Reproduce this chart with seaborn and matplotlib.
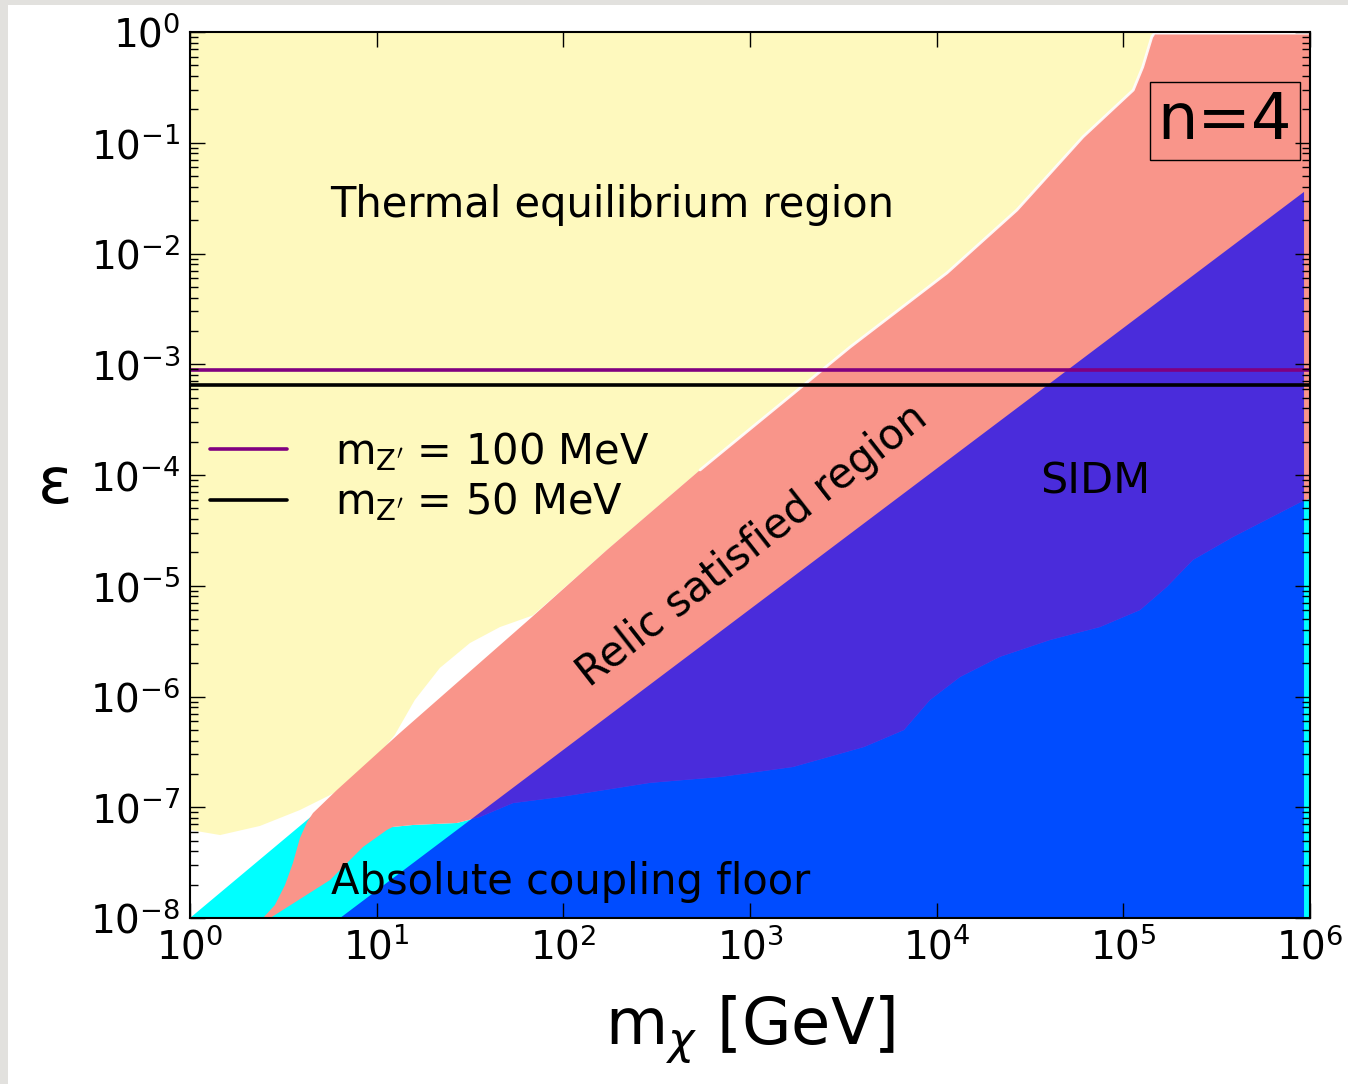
import numpy as np
import pandas as pd
import matplotlib
matplotlib.use("Agg")
import matplotlib.pyplot as plt
from matplotlib.patches import Rectangle
from matplotlib.ticker import LogLocator, NullLocator
import seaborn as sns

# ---------------- data ----------------
# lower edge of the thermal-equilibrium (yellow) region
therm_x = [1, 1.45, 2.37, 3.88, 6.37, 9.20, 12.5, 16.0, 21.8, 31.6, 45.8, 68.7]
therm_y = [6.24e-8, 5.61e-8, 6.78e-8, 9.44e-8, 1.43e-7, 2.40e-7, 4.49e-7,
           9.29e-7, 1.81e-6, 3.04e-6, 4.24e-6, 5.4e-6]

# upper / left edge of the relic-satisfied (salmon) band
relic_up_x = [2.46, 2.85, 3.23, 3.56, 3.88, 4.24, 4.56, 6.12, 13.3, 67.9, 171,
              540, 3440, 11350, 26900, 60800, 1.13e5, 1.27e5, 1.42e5, 1.45e5]
relic_up_y = [1e-8, 1.31e-8, 1.99e-8, 3.14e-8, 5.27e-8, 7.36e-8, 8.87e-8,
              1.43e-7, 4.68e-7, 5.22e-6, 2.10e-5, 1.11e-4, 1.43e-3, 6.67e-3,
              2.47e-2, 0.113, 0.299, 0.483, 0.90, 0.95]

# lower-left edge of the relic band (against the coupling floor)
relic_low_x = [2.69, 5.62, 8.45, 11.35]
relic_low_y = [1e-8, 2.20e-8, 4.38e-8, 6.24e-8]

# top of the absolute coupling floor (cyan)
floor_x = [1, 4.56, 12.2, 15.7, 26.9, 35.8, 53.7, 97.1, 291, 700, 1700, 4080,
           6680, 9200, 13340, 21800, 40500, 75000, 1.23e5, 1.71e5, 2.36e5,
           3.86e5, 9.3e5, 1e6]
floor_y = [1e-8, 8.51e-8, 6.64e-8, 6.92e-8, 7.21e-8, 8.17e-8, 1.09e-7,
           1.24e-7, 1.66e-7, 1.88e-7, 2.31e-7, 3.50e-7, 4.98e-7, 9.29e-7,
           1.50e-6, 2.28e-6, 3.24e-6, 4.24e-6, 6.04e-6, 9.75e-6, 1.71e-5,
           2.75e-5, 5.9e-5, 6.1e-5]

# SIDM boundary (straight line in log-log)
sidm_x = [6.37, 9.29e5]
sidm_y = [1e-8, 3.6e-2]

# horizontal Z' lines
zp_labels = [r"m$_{\mathrm{Z'}}$ = 100 MeV", r"m$_{\mathrm{Z'}}$ = 50 MeV"]
zp_eps = [8.8e-4, 6.5e-4]
zp_colors = ["#800080", "#000000"]
x_range = [1, 1e6]

# ---------------- style ----------------
sns.set_style("ticks")
plt.rcParams['font.family'] = ['DejaVu Sans']
plt.rcParams['mathtext.fontset'] = 'dejavusans'
plt.rcParams['text.color'] = 'black'
plt.rcParams['axes.labelcolor'] = 'black'
plt.rcParams['xtick.color'] = 'black'
plt.rcParams['ytick.color'] = 'black'

YELLOW = "#FEF9BE"
SALMON = "#F9958A"
CYAN = "#00FFFF"

W, H = 1348, 1084
fig = plt.figure(figsize=(W / 100, H / 100), dpi=100)
fig.patch.set_facecolor('#e2e1de')
fig.patches.append(Rectangle((8 / W, 0), 1, 1 - 5 / H, transform=fig.transFigure,
                             facecolor='white', edgecolor='none', zorder=-10))

ax = fig.add_axes([190 / W, 1 - 918 / H, 1120 / W, 886 / H])
ax.set_xscale('log')
ax.set_yscale('log')
ax.set_facecolor('white')

# thermal equilibrium region
tx = [1] + therm_x + [x for x in relic_up_x if x > therm_x[-1]] + [relic_up_x[-1]]
ty = [1] + therm_y + [y for x, y in zip(relic_up_x, relic_up_y) if x > therm_x[-1]] + [1.0]
ax.fill(tx, ty, color=YELLOW, lw=0, zorder=1)

# absolute coupling floor
ax.fill(floor_x + [1e6, 1], floor_y + [1e-8, 1e-8], color=CYAN, lw=0, zorder=2)

# relic satisfied band
fl = [(x, y) for x, y in zip(floor_x, floor_y) if x > relic_low_x[-1]]
rx = relic_up_x + [1e6, 1e6] + [p[0] for p in fl[::-1]] + relic_low_x[::-1]
ry = relic_up_y + [relic_up_y[-1], floor_y[-1]] + [p[1] for p in fl[::-1]] + relic_low_y[::-1]
ax.fill(rx, ry, color=SALMON, lw=0, zorder=3)

# white gap between thermal and relic region (upper part)
wx = [x for x in relic_up_x if x >= 540]
wy = [y for x, y in zip(relic_up_x, relic_up_y) if x >= 540]
ax.plot(wx, wy, color='white', lw=2.0, zorder=4, solid_capstyle='round',
        solid_joinstyle='round', alpha=0.9)

# SIDM region (translucent blue)
ax.fill([sidm_x[0], sidm_x[1], sidm_x[1]], [sidm_y[0], sidm_y[1], 1e-8],
        color='blue', alpha=0.7, lw=0, zorder=5)

# Z' lines via seaborn
df = pd.DataFrame({
    "mass": x_range * len(zp_labels),
    "eps": [e for e in zp_eps for _ in x_range],
    "label": [l for l in zp_labels for _ in x_range],
})
sns.lineplot(data=df, x="mass", y="eps", hue="label", hue_order=zp_labels,
             palette=dict(zip(zp_labels, zp_colors)), linewidth=2.6,
             legend=False, ax=ax, zorder=6)
zlines = ax.lines[-2:]
leg = ax.legend(zlines, zp_labels, frameon=False, fontsize=30,
                loc='upper left', bbox_to_anchor=((210 - 190) / 1120, 1 - (430 - 32) / 886),
                handlelength=1.85, handletextpad=1.15, labelspacing=0.18,
                borderpad=0, borderaxespad=0)
leg.set_zorder(7)

ax.set_xlim(1, 1e6)
ax.set_ylim(1e-8, 1)

# texts
ax.text(5.62, 2.74e-2, "Thermal equilibrium region", fontsize=30,
        ha='left', va='center', zorder=7)
ax.text(1025, 2.33e-5, "Relic satisfied region", fontsize=30, rotation=38,
        ha='center', va='center', rotation_mode='anchor', zorder=7)
ax.text(7.05e4, 8.65e-5, "SIDM", fontsize=31, ha='center', va='center', zorder=7)
ax.text(110, 2.11e-8, "Absolute coupling floor", fontsize=30,
        ha='center', va='center', zorder=7)
ax.text(3.5e5, 0.157, "n=4", fontsize=46, ha='center', va='center', zorder=7,
        bbox=dict(boxstyle='square,pad=0.12', facecolor='none',
                  edgecolor='black', lw=1))

# axes styling
ax.set_axisbelow(False)
ax.xaxis.set_major_locator(LogLocator(base=10, numticks=10))
ax.xaxis.set_minor_locator(NullLocator())
ax.yaxis.set_major_locator(LogLocator(base=10, numticks=12))
ax.yaxis.set_minor_locator(LogLocator(base=10, subs=np.arange(2, 10), numticks=12))
ax.tick_params(which='both', direction='in', top=True, right=True,
               labelsize=28, colors='black')
ax.tick_params(which='major', length=11, width=1, pad=7)
ax.tick_params(which='minor', length=6, width=1)
ax.xaxis.set_zorder(10)
ax.yaxis.set_zorder(10)
for s in ax.spines.values():
    s.set_linewidth(1.5)
    s.set_color('black')
    s.set_zorder(11)

ax.set_xlabel(r"m$_{\chi}$ [GeV]", fontsize=46)
ax.xaxis.label.set_va('center')
ax.set_ylabel("ε", fontsize=46, rotation=0, ha='center', va='center')
ax.xaxis.set_label_coords(0.5, -(1030 - 918) / 886)
ax.yaxis.set_label_coords((55 - 190) / 1120, 1 - (485 - 32) / 886)

fig.savefig("out.png", dpi=100, facecolor=fig.get_facecolor())
